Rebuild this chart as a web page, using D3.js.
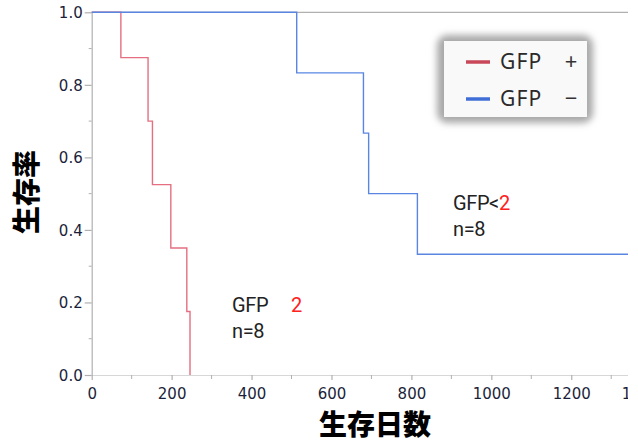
<!DOCTYPE html>
<html>
<head>
<meta charset="utf-8">
<script src="https://cdn.jsdelivr.net/npm/d3@7"></script>
<style>
  body { margin: 0; background: #fff; }
  svg { display: block; }
</style>
</head>
<body>
<svg id="chart" width="638" height="441"></svg>
<script>
// survival steps
var gfpPosDays = [0, 73, 141, 152, 198, 238, 246];
var gfpPosSurv = [1, 0.875, 0.70, 0.525, 0.35, 0.175, 0];
var gfpNegDays = [0, 513, 680, 693, 815, 1342];
var gfpNegSurv = [1, 0.833, 0.667, 0.50, 0.333, 0.333];

var xMajor = [0, 200, 400, 600, 800, 1000, 1200, 1400];
var xMinor = [100, 300, 500, 700, 900, 1100, 1300];
var yMajor = [0, 0.2, 0.4, 0.6, 0.8, 1.0];
var yMinor = [0.1, 0.3, 0.5, 0.7, 0.9];

var legendLabels = ["GFP", "GFP"];
var legendSigns = ["+", "\u2212"];
var legendColors = ["#c8485a", "#3f6fd6"];

var svg = d3.select("#chart");

var x = d3.scaleLinear().domain([0, 1342]).range([91.7, 628]);
var y = d3.scaleLinear().domain([0, 1]).range([375, 12.3]);

svg.append("defs").append("clipPath").attr("id", "clipR")
   .append("rect").attr("x", 0).attr("y", 0).attr("width", 628).attr("height", 441);

svg.select("defs").append("filter").attr("id", "blur")
   .attr("x", "-20%").attr("y", "-20%").attr("width", "140%").attr("height", "140%")
   .append("feGaussianBlur").attr("stdDeviation", 3.5);

// top border
svg.append("line")
   .attr("x1", x(0)).attr("x2", 628)
   .attr("y1", y(1)).attr("y2", y(1))
   .attr("stroke", "#b0b0b0").attr("stroke-width", 1.2);

// x axis
var xAxis = svg.append("g")
   .attr("transform", "translate(0," + y(0) + ")")
   .attr("clip-path", "url(#clipR)")
   .call(d3.axisBottom(x).tickValues(xMajor).tickSize(5).tickSizeOuter(0).tickFormat(d3.format("d")));
xAxis.append("g").selectAll("line").data(xMinor).enter().append("line")
   .attr("x1", function(d) { return x(d); }).attr("x2", function(d) { return x(d); })
   .attr("y1", 0).attr("y2", 4).attr("stroke", "#b0b0b0");
xAxis.select(".domain").attr("d", "M" + x(0) + ",0H628");

// y axis
var yAxis = svg.append("g")
   .attr("transform", "translate(" + x(0) + ",0)")
   .call(d3.axisLeft(y).tickValues(yMajor).tickSize(7).tickSizeOuter(0).tickFormat(d3.format(".1f")));
yAxis.append("g").selectAll("line").data(yMinor).enter().append("line")
   .attr("x1", -3).attr("x2", 0)
   .attr("y1", function(d) { return y(d); }).attr("y2", function(d) { return y(d); })
   .attr("stroke", "#b0b0b0");

svg.selectAll(".domain, .tick line").attr("stroke", "#b0b0b0").attr("stroke-width", 1.2);
svg.selectAll(".tick text")
   .attr("font-family", "DejaVu Sans, Verdana, sans-serif")
   .attr("font-size", 15)
   .attr("fill", "#1c1f3a");
xAxis.selectAll(".tick text").attr("dy", "1.05em");
yAxis.selectAll(".tick text").attr("dy", "0.36em").attr("x", -9);
// last x label is cut by the right edge
xAxis.selectAll(".tick").filter(function(d) { return d === 1400; })
   .select("text").attr("text-anchor", "start").attr("x", -30);

// curves
function steps(days, surv) {
   return days.map(function(d, i) { return [d, surv[i]]; });
}
var line = d3.line()
   .x(function(d) { return x(d[0]); })
   .y(function(d) { return y(d[1]); })
   .curve(d3.curveStepAfter);

svg.append("path")
   .datum(steps(gfpPosDays, gfpPosSurv))
   .attr("d", line)
   .attr("fill", "none").attr("stroke", "#e56f81").attr("stroke-width", 1.4);

svg.append("path")
   .datum(steps(gfpNegDays, gfpNegSurv))
   .attr("d", line)
   .attr("fill", "none").attr("stroke", "#5a86e2").attr("stroke-width", 1.4);

// legend
var lg = svg.append("g");
lg.append("rect")
   .attr("x", 437).attr("y", 35).attr("width", 156).attr("height", 88).attr("rx", 10)
   .attr("fill", "#a8a8a8").attr("filter", "url(#blur)");
lg.append("rect")
   .attr("x", 444).attr("y", 41).attr("width", 143).attr("height", 76)
   .attr("fill", "#f9f9f9");

var items = lg.selectAll(".item").data(legendLabels).enter().append("g")
   .attr("class", "item")
   .attr("transform", function(d, i) { return "translate(0," + (62 + i * 37) + ")"; });
items.append("line")
   .attr("x1", 466).attr("x2", 490).attr("y1", 0).attr("y2", 0)
   .attr("stroke", function(d, i) { return legendColors[i]; })
   .attr("stroke-width", 3.5);
items.append("text")
   .attr("x", 500).attr("y", 7)
   .attr("font-family", "Noto Sans, sans-serif")
   .attr("font-size", 21).attr("letter-spacing", 1.2)
   .attr("fill", "#2a2a2a")
   .text(function(d) { return d; });
items.append("text")
   .attr("x", 571).attr("y", 7)
   .attr("text-anchor", "middle")
   .attr("font-family", "Noto Sans, sans-serif")
   .attr("font-size", 22)
   .attr("fill", "#333")
   .text(function(d, i) { return legendSigns[i]; });

// group annotations
function note(x0, y0, pre, red, redX) {
   var t = svg.append("text")
      .attr("x", x0).attr("y", y0)
      .attr("font-family", "Roboto, sans-serif")
      .attr("font-size", 20).attr("letter-spacing", -0.4)
      .attr("fill", "#222");
   t.append("tspan").text(pre);
   var r = t.append("tspan").attr("fill", "#ff2020").text(red);
   if (redX) r.attr("x", redX);
   svg.append("text")
      .attr("x", x0).attr("y", y0 + 26)
      .attr("font-family", "Roboto, sans-serif")
      .attr("font-size", 20).attr("letter-spacing", -0.4)
      .attr("fill", "#222")
      .text("n=8");
}
note(453, 210, "GFP<", "2", null);
note(232, 312, "GFP", "2", 291);

// axis titles
svg.append("text")
   .attr("x", 375).attr("y", 435)
   .attr("text-anchor", "middle")
   .attr("font-family", "Noto Sans CJK JP, sans-serif")
   .attr("font-weight", 900)
   .attr("font-size", 28)
   .attr("fill", "#000")
   .text("生存日数");

svg.append("text")
   .attr("transform", "translate(37,192) rotate(-90)")
   .attr("text-anchor", "middle")
   .attr("font-family", "Noto Sans CJK JP, sans-serif")
   .attr("font-weight", 900)
   .attr("font-size", 28)
   .attr("fill", "#000")
   .text("生存率");
</script>
</body>
</html>
